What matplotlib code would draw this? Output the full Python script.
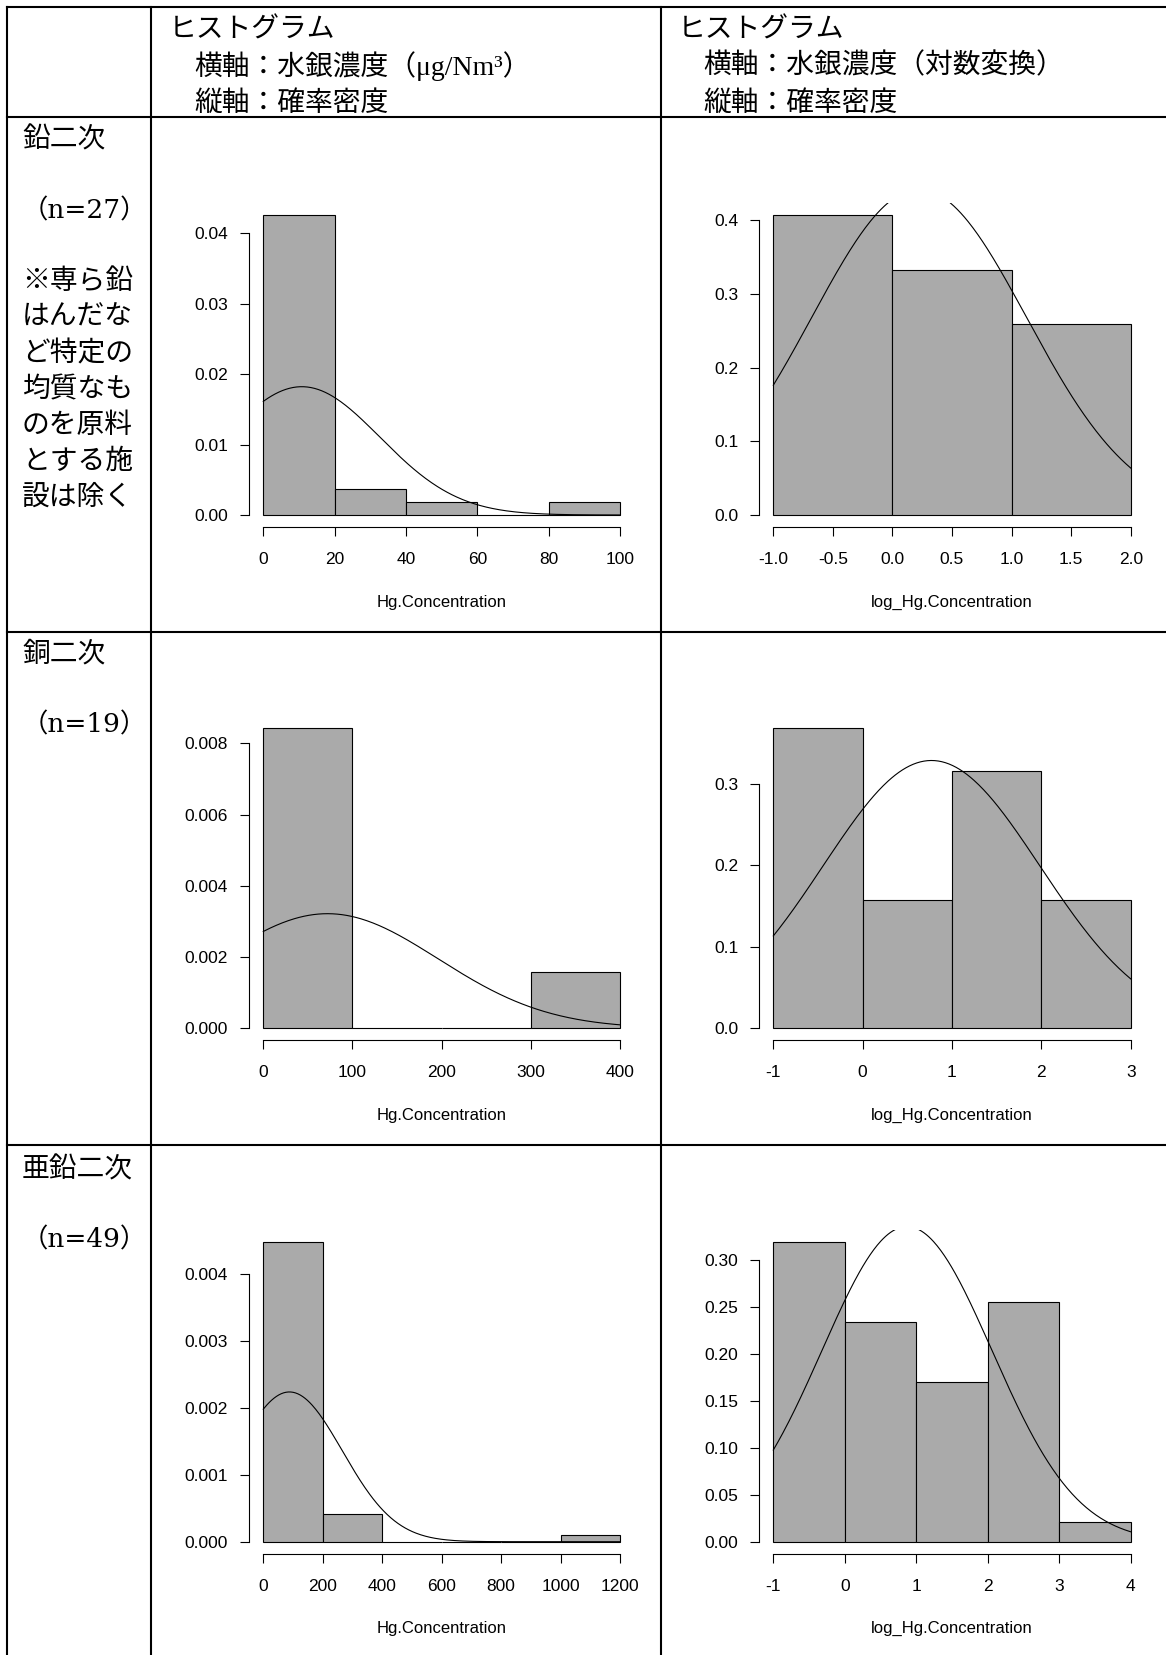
import numpy as np
import matplotlib.pyplot as plt
from matplotlib.lines import Line2D

plt.rcParams['font.family'] = 'Liberation Sans'
plt.rcParams['axes.unicode_minus'] = False

W, H = 1166, 1655
JP = ['Noto Sans CJK JP', 'DejaVu Sans']
SERIF_JP = ['Liberation Serif', 'Noto Sans CJK JP', 'DejaVu Sans']
WIDE_SERIF_JP = ['DejaVu Serif', 'Noto Sans CJK JP']

# 行ラベル
row_names = ['鉛二次', '銅二次', '亜鉛二次']
row_n = [27, 19, 49]
note_lines = ['※専ら鉛', 'はんだな', 'ど特定の', '均質なも', 'のを原料', 'とする施', '設は除く']

# 水銀濃度（そのまま）のヒストグラム
raw_breaks = [[0, 20, 40, 60, 80, 100],
              [0, 100, 200, 300, 400],
              [0, 200, 400, 600, 800, 1000, 1200]]
raw_counts = [[23, 2, 1, 0, 1],
              [16, 0, 0, 3],
              [44, 4, 0, 0, 0, 1]]
raw_mean = [10.8, 72.0, 88.0]
raw_sd = [21.9, 124.0, 178.0]
raw_xticks = [[0, 20, 40, 60, 80, 100],
              [0, 100, 200, 300, 400],
              [0, 200, 400, 600, 800, 1000, 1200]]
raw_yticks = [[0, 0.01, 0.02, 0.03, 0.04],
              [0, 0.002, 0.004, 0.006, 0.008],
              [0, 0.001, 0.002, 0.003, 0.004]]
raw_xfmt = ['%d', '%d', '%d']
raw_yfmt = ['%.2f', '%.3f', '%.3f']

# 対数変換後のヒストグラム
log_breaks = [[-1, 0, 1, 2],
              [-1, 0, 1, 2, 3],
              [-1, 0, 1, 2, 3, 4]]
log_counts = [[11, 9, 7],
              [7, 3, 6, 3],
              [15, 11, 8, 12, 1]]
log_mean = [0.224, 0.77, 0.87]
log_sd = [0.9025, 1.213, 1.19]
log_xticks = [[-1.0, -0.5, 0.0, 0.5, 1.0, 1.5, 2.0],
              [-1, 0, 1, 2, 3],
              [-1, 0, 1, 2, 3, 4]]
log_yticks = [[0, 0.1, 0.2, 0.3, 0.4],
              [0, 0.1, 0.2, 0.3],
              [0, 0.05, 0.10, 0.15, 0.20, 0.25, 0.30]]
log_xfmt = ['%.1f', '%d', '%d']
log_yfmt = ['%.1f', '%.1f', '%.2f']


def fx(x):
    return x / W


def fy(y):
    return 1 - y / H


def draw_hist(ax, breaks, counts, mean, sd, xticks, xfmt, yticks, yfmt, xlabel):
    breaks = np.array(breaks, float)
    counts = np.array(counts, float)
    centers = (breaks[:-1] + breaks[1:]) / 2
    ax.hist(centers, bins=breaks, weights=counts, density=True,
            color='#aaaaaa', edgecolor='black', linewidth=0.8)
    x = np.linspace(breaks[0], breaks[-1], 300)
    y = np.exp(-(x - mean) ** 2 / (2 * sd ** 2)) / (sd * np.sqrt(2 * np.pi))
    ax.plot(x, y, color='black', lw=0.8)

    top = (counts / (counts.sum() * np.diff(breaks))).max()
    span = breaks[-1] - breaks[0]
    ax.set_xlim(breaks[0] - 0.04 * span, breaks[-1] + 0.04 * span)
    ax.set_ylim(-0.04 * top, 1.04 * top)

    ax.set_xticks(xticks)
    ax.set_xticklabels([xfmt % t for t in xticks])
    ax.set_yticks(yticks)
    ax.set_yticklabels([yfmt % t for t in yticks])
    ax.tick_params(axis='x', direction='out', length=6.5, width=0.8, pad=11.5, labelsize=12.5)
    ax.tick_params(axis='y', direction='out', length=6.5, width=0.8, pad=8.5, labelsize=12.5)
    for s in ['top', 'right']:
        ax.spines[s].set_visible(False)
    ax.spines['left'].set_bounds(yticks[0], yticks[-1])
    ax.spines['bottom'].set_bounds(xticks[0], xticks[-1])
    ax.spines['left'].set_linewidth(0.8)
    ax.spines['bottom'].set_linewidth(0.8)
    ax.patch.set_alpha(0)

    ax.set_xlabel(xlabel, fontsize=12)
    ax.xaxis.label.set_va('center')
    ax.xaxis.set_label_coords(0.5, -75 / 324)


fig = plt.figure(figsize=(W / 100, H / 100), dpi=100)

# 表の罫線
for x in [7.3, 150.7, 661]:
    fig.add_artist(Line2D([fx(x), fx(x)], [fy(7.3), 0], color='black', lw=1.5))
for y in [7.3, 117.3, 631.7, 1145]:
    fig.add_artist(Line2D([fx(7.3), 1], [fy(y), fy(y)], color='black', lw=1.5))

# 見出し
for x0, sub in [(169, '横軸：水銀濃度（μg/Nm³）'), (678, '横軸：水銀濃度（対数変換）')]:
    fig.text(fx(x0), fy(30), 'ヒストグラム', family=JP, fontsize=20, va='center')
    fig.text(fx(x0 + 25), fy(66), sub, family=SERIF_JP, fontsize=20, va='center')
    fig.text(fx(x0 + 25), fy(103), '縦軸：確率密度', family=JP, fontsize=20, va='center')

row_y0 = [515, 1028.3, 1541.7]
name_y = [139.5, 654, 1169]

for i in range(3):
    fig.text(fx(22), fy(name_y[i]), row_names[i], family=JP, fontsize=20, va='center')
    fig.text(fx(22), fy(name_y[i] + 71), '（n=%d）' % row_n[i], family=WIDE_SERIF_JP,
             fontsize=19, va='center')
    if i == 0:
        for k, line in enumerate(note_lines):
            fig.text(fx(22), fy(282 + 36 * k), line, family=SERIF_JP, fontsize=20, va='center')

    y0 = row_y0[i]
    bottom = fy(y0 + 12)
    h = 324 / H
    ax1 = fig.add_axes([fx(249), bottom, 385.3 / W, h])
    draw_hist(ax1, raw_breaks[i], raw_counts[i], raw_mean[i], raw_sd[i],
              raw_xticks[i], raw_xfmt[i], raw_yticks[i], raw_yfmt[i], 'Hg.Concentration')
    ax2 = fig.add_axes([fx(759), bottom, 386 / W, h])
    draw_hist(ax2, log_breaks[i], log_counts[i], log_mean[i], log_sd[i],
              log_xticks[i], log_xfmt[i], log_yticks[i], log_yfmt[i], 'log_Hg.Concentration')

fig.savefig('out.png', dpi=100)
